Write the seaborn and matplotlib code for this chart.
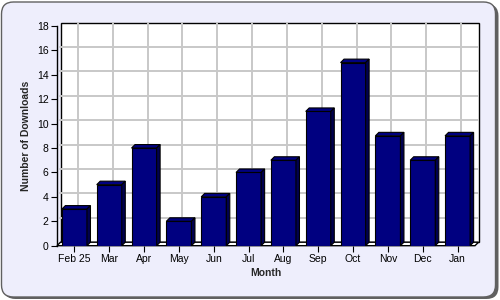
import matplotlib
matplotlib.use("Agg")
import matplotlib.pyplot as plt
import seaborn as sns
import pandas as pd
from matplotlib.patches import FancyBboxPatch, Polygon, Rectangle
from matplotlib import transforms

months = ["Feb 25", "Mar", "Apr", "May", "Jun", "Jul", "Aug", "Sep", "Oct", "Nov", "Dec", "Jan"]
downloads = [3, 5, 8, 2, 4, 6, 7, 11, 15, 9, 7, 9]
y_ticks = [0, 2, 4, 6, 8, 10, 12, 14, 16, 18]

sns.set_style("white")
plt.rcParams["font.family"] = ["Liberation Sans", "DejaVu Sans"]

W, H = 500, 300
fig = plt.figure(figsize=(5, 3), dpi=100)
fig.patch.set_facecolor("white")

# background rounded panel (pixel coords)
shadow = FancyBboxPatch((3.5, 1.0), 495, 295, boxstyle="round,pad=0,rounding_size=12",
                        transform=None, facecolor="#606060", edgecolor="none", zorder=0)
panel = FancyBboxPatch((1.5, 3.0), 494, 295, boxstyle="round,pad=0,rounding_size=12",
                       transform=None, facecolor="#EEEEFC", edgecolor="#606060", linewidth=1.0, zorder=1)
fig.patches.extend([shadow, panel])

left, right, bottom_px, top_px = 57, 475, 245.7, 26
ax = fig.add_axes([left / W, (H - bottom_px) / H, (right - left) / W, (bottom_px - top_px) / H])
ax.set_facecolor("none")
ax.set_zorder(2)

d = 3.5  # depth in pixels
off = transforms.ScaledTranslation(d / 100, d / 100, fig.dpi_scale_trans)

df = pd.DataFrame({"Month": months, "Downloads": downloads})
sns.barplot(data=df, x="Month", y="Downloads", color="#000080", saturation=1,
            width=0.72, edgecolor="black", linewidth=0.8, ax=ax, zorder=5)
ax.set_ylim(0, 18)
ax.set_xlim(-0.5, len(months) - 0.5)
ax.set_yticks(y_ticks)

# back wall
wall = Rectangle((0, 0), 1, 1, transform=ax.transAxes + off, facecolor="white",
                 edgecolor="black", linewidth=1.0, zorder=0.5, clip_on=False)
ax.add_patch(wall)
for y in y_ticks[1:-1]:
    ax.plot([-0.5, len(months) - 0.5], [y, y], color="#C8C8C8", lw=1.4,
            transform=ax.transData + off, zorder=1, clip_on=False)
for i in range(len(months)):
    ax.plot([i, i], [0, 18], color="#C8C8C8", lw=1.4,
            transform=ax.transData + off, zorder=1, clip_on=False)

fig.canvas.draw()
# floor
(x0, y0) = ax.transAxes.transform((0, 0))
(x1, _) = ax.transAxes.transform((1, 0))
floor = Polygon([(x0, y0), (x1, y0), (x1 + d, y0 + d), (x0 + d, y0 + d)], closed=True,
                transform=None, facecolor="white", edgecolor="black", linewidth=1.0, zorder=3)
ax.add_artist(floor)
floor.set_clip_on(False)

# 3D faces for bars
for p in list(ax.patches):
    if not isinstance(p, Rectangle) or p is wall:
        continue
    bb = p.get_window_extent()
    bx0, by0, bx1, by1 = bb.x0, bb.y0, bb.x1, bb.y1
    top = Polygon([(bx0, by1), (bx1, by1), (bx1 + d, by1 + d), (bx0 + d, by1 + d)],
                  closed=True, transform=None, facecolor="#000080", edgecolor="black",
                  linewidth=0.8, zorder=6, clip_on=False)
    side = Polygon([(bx1, by0), (bx1 + d, by0 + d), (bx1 + d, by1 + d), (bx1, by1)],
                   closed=True, transform=None, facecolor="#000050", edgecolor="black",
                   linewidth=0.8, zorder=6, clip_on=False)
    ax.add_artist(top)
    ax.add_artist(side)

for s in ["top", "right", "bottom"]:
    ax.spines[s].set_visible(False)
ax.spines["left"].set_color("black")
ax.spines["left"].set_linewidth(1.0)
ax.tick_params(axis="both", which="both", length=4, width=0.8, color="black",
               labelsize=7.5, labelcolor="black", pad=2, left=True, bottom=True)
ax.set_xlabel("Month", fontsize=7.5, fontweight="bold", labelpad=3)
ax.set_ylabel("Number of Downloads", fontsize=7.5, fontweight="bold", labelpad=4)

fig.savefig("out.png", dpi=100)
